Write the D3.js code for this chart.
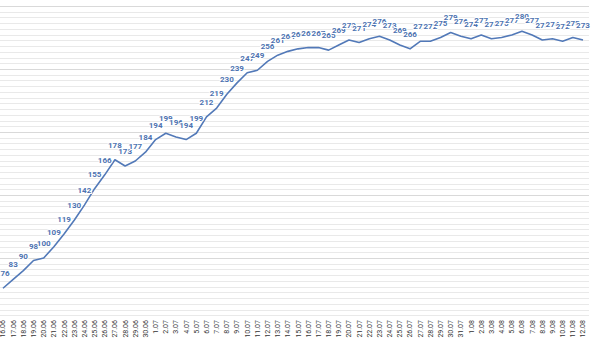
<!DOCTYPE html>
<html>
<head>
<meta charset="utf-8">
<script src="https://cdn.jsdelivr.net/npm/d3@7"></script>
<style>
  body { margin: 0; background: #fff; }
  svg { display: block; font-family: Roboto, "Noto Sans", sans-serif; }
  .grid-minor { stroke: #e9e9e9; stroke-width: 1; }
  .grid-major { stroke: #d9d9d9; stroke-width: 1; }
  .tick-label { font-size: 7px; fill: #333; }
  .val { font-size: 8px; font-weight: 700; fill: #4d73b1; stroke: #fff; stroke-width: 2px; paint-order: stroke; stroke-linejoin: round; }
</style>
</head>
<body>
<script>
const width = 600, height = 354;

const dates = [
  '16.06','17.06','18.06','19.06','20.06','21.06','22.06','23.06','24.06','25.06',
  '26.06','27.06','28.06','29.06','30.06','1.07','2.07','3.07','4.07','5.07',
  '6.07','7.07','8.07','9.07','10.07','11.07','12.07','13.07','14.07','15.07',
  '16.07','17.07','18.07','19.07','20.07','21.07','22.07','23.07','24.07','25.07',
  '26.07','27.07','28.07','29.07','30.07','31.07','1.08','2.08','3.08','4.08',
  '5.08','6.08','7.08','8.08','9.08','10.08','11.08','12.08'
];
const values = [
  76, 83, 90, 98, 100, 109, 119, 130, 142, 155,
  166, 178, 173, 177, 184, 194, 199, 196, 194, 199,
  212, 219, 230, 239, 247, 249, 256, 261, 264, 266,
  267, 267, 265, 269, 273, 271, 274, 276, 273, 269,
  266, 272, 272, 275, 279, 276, 274, 277, 274, 275,
  277, 280, 277, 273, 274, 272, 275, 273
];
const majorTicks = [100, 150, 200, 250, 300];
const minorPerMajor = 11;

const x = d3.scalePoint().domain(dates).range([3, 583]);
const y = d3.scaleLinear().domain([50, 300]).range([321, 6]);

const svg = d3.select('body').append('svg')
  .attr('width', width).attr('height', height);

// gridlines
const minorVals = [];
for (let v = 300; y(v) < 318; v -= 50 / minorPerMajor) minorVals.push(v);
svg.append('g').selectAll('line').data(minorVals).join('line')
  .attr('class', 'grid-minor')
  .attr('x1', 0).attr('x2', 589)
  .attr('y1', d => Math.round(y(d)) + 0.5).attr('y2', d => Math.round(y(d)) + 0.5);
svg.append('g').selectAll('line').data(majorTicks).join('line')
  .attr('class', 'grid-major')
  .attr('x1', 0).attr('x2', 589)
  .attr('y1', d => Math.round(y(d)) + 0.5).attr('y2', d => Math.round(y(d)) + 0.5);

// x tick labels
svg.append('g').selectAll('text').data(dates).join('text')
  .attr('class', 'tick-label')
  .attr('transform', d => `translate(${x(d)},320) rotate(-90)`)
  .attr('text-anchor', 'end')
  .attr('dy', '0.35em')
  .text(d => d);

// line
const line = d3.line()
  .x((d, i) => x(dates[i]))
  .y(d => y(d));
svg.append('path')
  .datum(values)
  .attr('fill', 'none')
  .attr('stroke', '#5279b8')
  .attr('stroke-width', 1.6)
  .attr('stroke-linejoin', 'round')
  .attr('d', line);

// value labels
svg.append('g').selectAll('text').data(values).join('text')
  .attr('class', 'val')
  .attr('x', (d, i) => Math.max(x(dates[i]), 5))
  .attr('y', d => y(d) - 12)
  .attr('text-anchor', 'middle')
  .text(d => d);
</script>
</body>
</html>
